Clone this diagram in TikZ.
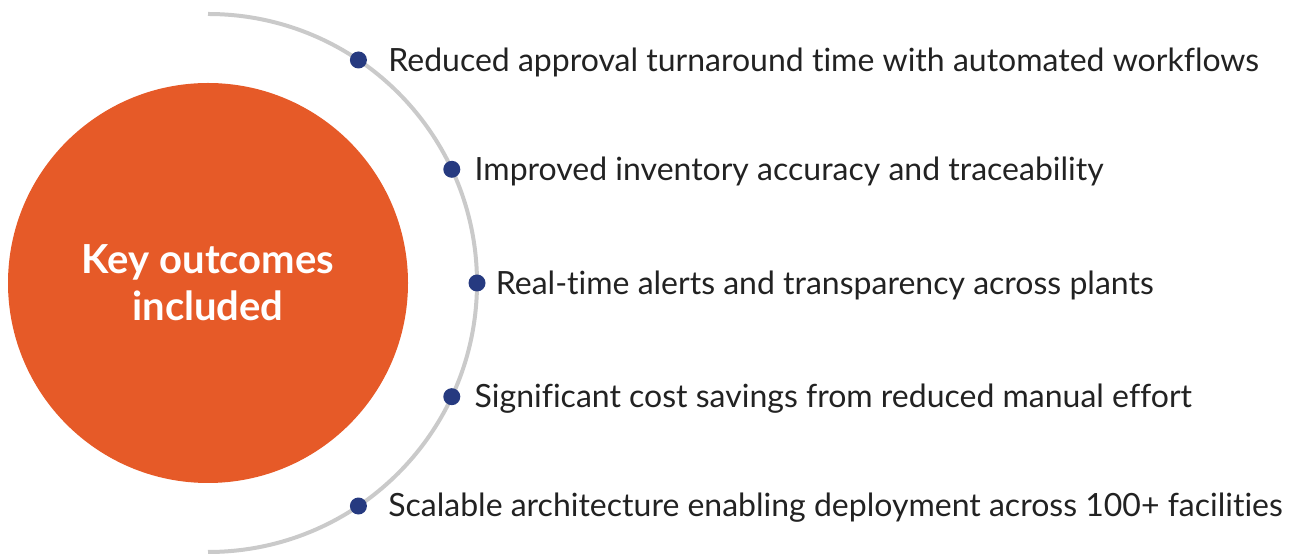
\documentclass[tikz,border=0pt]{standalone}
\usepackage{fontspec}
\setmainfont{Lato}[Ligatures=NoCommon]
\usetikzlibrary{positioning}
\definecolor{orangeKreis}{HTML}{E65A28}
\definecolor{blauPunkt}{HTML}{263A80}
\definecolor{grauBogen}{HTML}{CACACA}
\definecolor{textGrau}{HTML}{222222}
\tikzset{
  Kreis/.style={circle, fill=orangeKreis, minimum size=400pt, inner sep=0pt,
    text=white, font={\fontsize{40}{47}\selectfont\bfseries}, align=center}, % Hauptkreis
  Punkt/.style={circle, fill=blauPunkt, minimum size=17pt, inner sep=0pt}, % Aufzaehlungspunkte
  Eintrag/.style={inner sep=0pt, yshift=-2pt, text=textGrau, font={\fontsize{32}{38}\selectfont}} % Texte
}
\begin{document}
\begin{tikzpicture}[x=1pt,y=1pt]
\useasboundingbox (0,0) rectangle (1289,556);
\coordinate (M) at (208,273);

%Bogen
\draw[grauBogen, line width=4pt] ([shift={(90:269)}]M) arc[start angle=90, end angle=-90, radius=269];

%Kreis
\node[Kreis] (K) at (M) {Key outcomes\\included};

%Punkte und Texte
\foreach \w/\n/\a/\t in {
  56/1/21/Reduced approval turnaround time with automated workflows,
  25/2/14/Improved inventory accuracy and traceability,
  0/3/10/Real-time alerts and transparency across plants,
  -25/4/14/Significant cost savings from reduced manual effort,
  -56/5/21/Scalable architecture enabling deployment across 100+ facilities}{%
  \node[Punkt] (P\n) at ([shift={(\w:269)}]M) {};
  \node[Eintrag, right=\a pt of P\n] (T\n) {\t};
}
\end{tikzpicture}
\end{document}
